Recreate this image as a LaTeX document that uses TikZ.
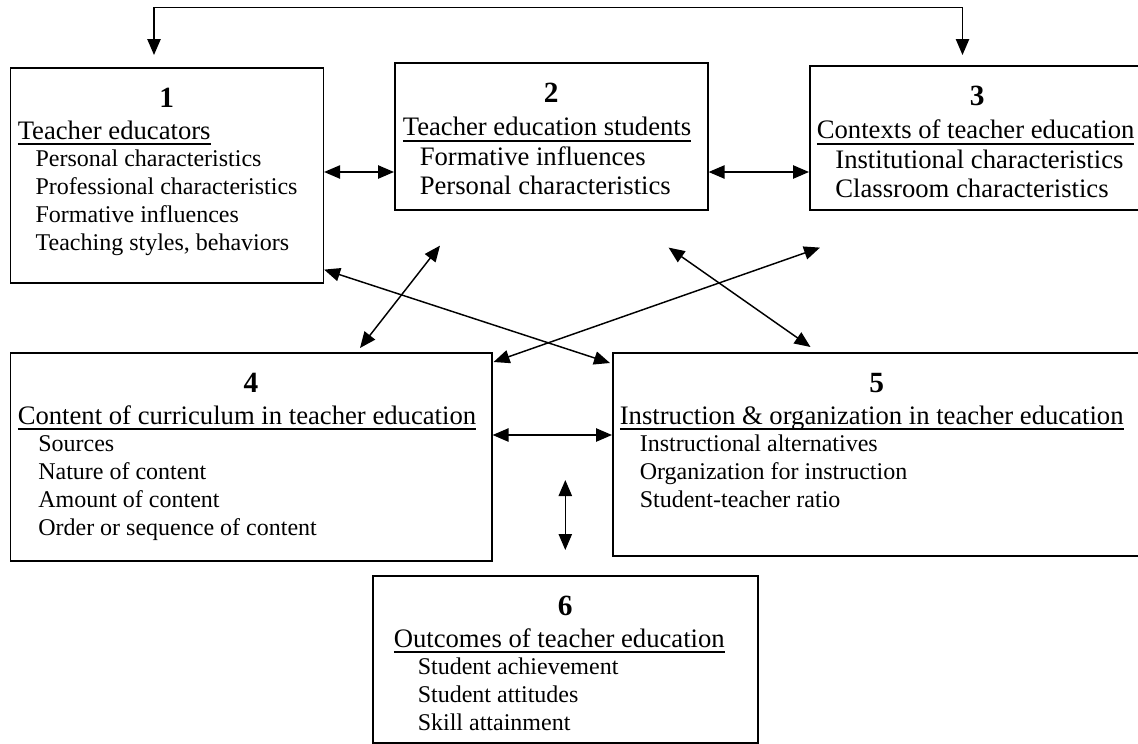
\documentclass[tikz,border=0pt]{standalone}
\usepackage{fontspec}
\setmainfont{Liberation Serif}
\usetikzlibrary{arrows.meta, calc}

\newsavebox{\hdbox}
\newcommand{\hd}[1]{\sbox{\hdbox}{#1}\rlap{\rule[-4.5pt]{\wd\hdbox}{1.5pt}}\usebox{\hdbox}}
\newcommand{\num}[2][\linewidth]{\makebox[#1]{\rule{0pt}{30pt}\fontsize{22}{22}\selectfont\textbf{#2}}\\[2.7pt]}

\begin{document}
\begin{tikzpicture}[x=0.75pt, y=0.75pt, >={Triangle[length=12pt,width=10pt]},
  panel/.style={draw, line width=1.2pt, inner sep=0pt, anchor=north west,
    font=\fontsize{20}{20.8}\selectfont},
  link/.style={<->, line width=1.1pt}]
  \useasboundingbox (0,0) rectangle (1138,-743);
  \clip (0,0) rectangle (1138,-743);

  % the six boxes (3 and 5 run off the right edge)
  \node[panel] (b1) at (9.5,-67) {\parbox[c][161.25pt][t]{234.75pt}{\num{1}%
    \hspace*{5.6pt}\hd{Teacher educators}\fontsize{18}{20.8}\selectfont\\
    \hspace*{19pt}Personal characteristics\\
    \hspace*{19pt}Professional characteristics\\
    \hspace*{19pt}Formative influences\\
    \hspace*{19pt}Teaching styles, behaviors}};
  \node[panel] (b2) at (394,-62) {\parbox[c][110.25pt][t]{234.75pt}{\fontsize{20}{22}\selectfont\num{2}%
    \hspace*{6pt}\hd{Teacher education students}\\
    \hspace*{18.75pt}Formative influences\\
    \hspace*{18.75pt}Personal characteristics}};
  \node[panel] (b3) at (809,-65) {\parbox[c][108pt][t]{300pt}{\fontsize{20}{22}\selectfont\num[251.25pt]{3}%
    \hspace*{5.25pt}\hd{Contexts of teacher education}\\
    \hspace*{19.2pt}Institutional characteristics\\
    \hspace*{19.2pt}Classroom characteristics}};
  \node[panel] (b4) at (9.5,-352) {\parbox[c][156pt][t]{361.1pt}{\num{4}%
    \hspace*{5.6pt}\hd{Content of curriculum in teacher education}\fontsize{18}{20.8}\selectfont\\
    \hspace*{21pt}Sources\\
    \hspace*{21pt}Nature of content\\
    \hspace*{21pt}Amount of content\\
    \hspace*{21pt}Order or sequence of content}};
  \node[panel] (b5) at (612,-352) {\parbox[c][152.25pt][t]{440pt}{\num[396pt]{5}%
    \hspace*{5.25pt}\hd{Instruction \& organization in teacher education}\fontsize{18}{20.8}\selectfont\\
    \hspace*{20.25pt}Instructional alternatives\\
    \hspace*{20.25pt}Organization for instruction\\
    \hspace*{20.25pt}Student-teacher ratio}};
  \node[panel] (b6) at (372,-575) {\parbox[c][125.25pt][t]{288.75pt}{\num{6}%
    \hspace*{15.75pt}\hd{Outcomes of teacher education}\fontsize{18}{20.8}\selectfont\\
    \hspace*{33.75pt}Student achievement\\
    \hspace*{33.75pt}Student attitudes\\
    \hspace*{33.75pt}Skill attainment}};

  % connectors
  \coordinate (row) at (0,-172);
  \coordinate (mid) at (0,-435);
  \draw[link] ($(b1.north west)+(144.5,12)$) |- ($(b3.north west)+(153.5,57.5)$)
    -- ($(b3.north west)+(153.5,10)$);
  \draw[link] (b1.east |- row) -- (b2.west |- row);
  \draw[link] (b2.east |- row) -- (b3.west |- row);
  \draw[link] ($(b1.south east)+(0,14)$) -- ($(b5.north west)+(-2,-11)$);
  \draw[link] ($(b2.south west)+(46,-35)$) -- ($(b4.north west)+(350.5,4)$);
  \draw[link] ($(b3.south west)+(11,-37)$) -- ($(b4.north east)+(1,-10)$);
  \draw[link] ($(b2.south east)+(-40,-37)$) -- ($(b5.north west)+(198.5,5)$);
  \draw[link] (b4.east |- mid) -- (b5.west |- mid);
  \draw[link] ($(b6.north)+(0,25)$) -- ($(b6.north)+(0,95)$);
\end{tikzpicture}
\end{document}
